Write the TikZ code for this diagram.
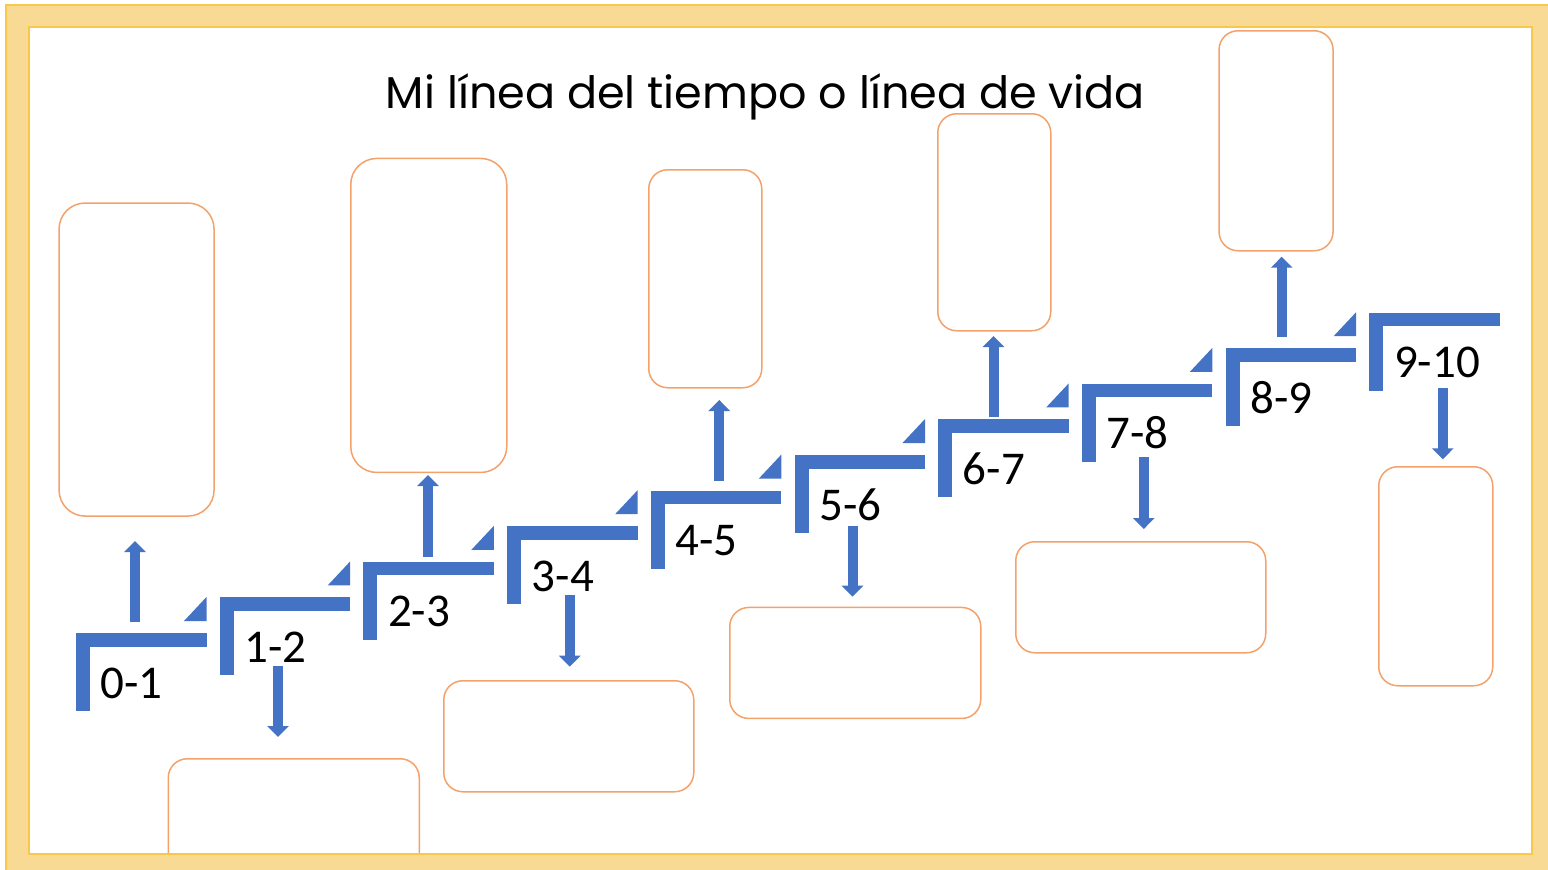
\documentclass[tikz,border=0pt]{standalone}
\usepackage{fontspec}
\setmainfont{Carlito}
\newfontfamily\titlefont{Poppins}
\usetikzlibrary{arrows.meta}
\definecolor{stepblue}{HTML}{4472C4}
\definecolor{boxorange}{HTML}{F3A26B}
\definecolor{frameyellow}{HTML}{F9DA95}
\definecolor{frameedge}{HTML}{F7C84A}
\tikzset{
  boxshape/.style={draw=boxorange, line width=1.5pt, fill=white, rounded corners=#1, inner sep=0pt, anchor=north west},
  blockarrow/.style={stepblue, line width=10pt, -{Triangle[width=21pt,length=11pt]}},
  steplabel/.style={font=\fontsize{47}{50}\selectfont, anchor=base west, inner sep=0pt, text=black},
  stepfill/.style={fill=stepblue},
}
\begin{document}
\begin{tikzpicture}[x=1pt,y=-1pt]
\useasboundingbox (0,0) rectangle (1548,870);
\fill[white] (0,0) rectangle (1548,870);
% title
\node[anchor=base, inner sep=0pt] (title) at (765.5,108) {\resizebox{759pt}{!}{\titlefont Mi línea del tiempo o línea de vida}};
% boxes
\node[boxshape=26pt, minimum width=155pt, minimum height=313pt] (b0) at (58.3,202.3) {};
\node[boxshape=19pt, minimum width=251pt, minimum height=140pt] (b1) at (167.5,758) {};
\node[boxshape=26pt, minimum width=156pt, minimum height=314pt] (b2) at (350,157.7) {};
\node[boxshape=19pt, minimum width=250pt, minimum height=111pt] (b3) at (443,680) {};
\node[boxshape=19pt, minimum width=113pt, minimum height=218pt] (b4) at (648,169) {};
\node[boxshape=19pt, minimum width=251pt, minimum height=111pt] (b5) at (729,606.7) {};
\node[boxshape=19pt, minimum width=113pt, minimum height=217pt] (b6) at (937,113) {};
\node[boxshape=19pt, minimum width=250pt, minimum height=111pt] (b7) at (1015,541) {};
\node[boxshape=19pt, minimum width=114pt, minimum height=220pt] (b8) at (1218.3,30) {};
\node[boxshape=19pt, minimum width=114pt, minimum height=219pt] (b9) at (1378,466) {};
% steps
\foreach \i in {0,...,9}{
  \pgfmathsetmacro\xa{76+143.7*\i}
  \pgfmathsetmacro\ya{633-35.6*\i}
  \fill[stepfill] (\xa,\ya) rectangle ++(130.5,13.5);
  \fill[stepfill] (\xa,\ya) rectangle ++(14,78);
  \ifnum\i<9
    \fill[stepfill] (\xa+108,\ya-12) -- ++(22.5,0) -- ++(0,-24) -- cycle;
  \fi
}
% labels
\foreach \i/\lab in {0/0-1,1/1-2,2/2-3,3/3-4,4/4-5,5/5-6,6/6-7,7/7-8,8/8-9,9/9-10}{
  \pgfmathsetmacro\xa{76+143.7*\i}
  \pgfmathsetmacro\ya{633-35.6*\i}
  \node[steplabel] (l\i) at (\xa+24.5,\ya+65) {\lab};
}
% arrows
\foreach \i/\ax/\ys/\ye in {0/135/622/541, 1/278/666/737, 2/428/557/475, 3/569.7/595/666.7, 4/719.3/481/400, 5/852.5/525.7/596.7, 6/993.5/417/336, 7/1143.8/457.3/529, 8/1281.7/336.7/256.7, 9/1442.8/388.3/459.3}{
  \coordinate (s\i) at (\ax,\ys);
  \coordinate (e\i) at (\ax,\ye);
  \draw[blockarrow] (s\i) -- (e\i);
}
% frame
\fill[frameyellow, even odd rule] (6,5) rectangle (1570,890) (29,27) rectangle (1532,854);
\draw[frameedge, line width=1.5pt] (6,890) -- (6,5) -- (1570,5);
\draw[frameedge, line width=1.5pt] (29,27) rectangle (1532,854);
\end{tikzpicture}
\end{document}
